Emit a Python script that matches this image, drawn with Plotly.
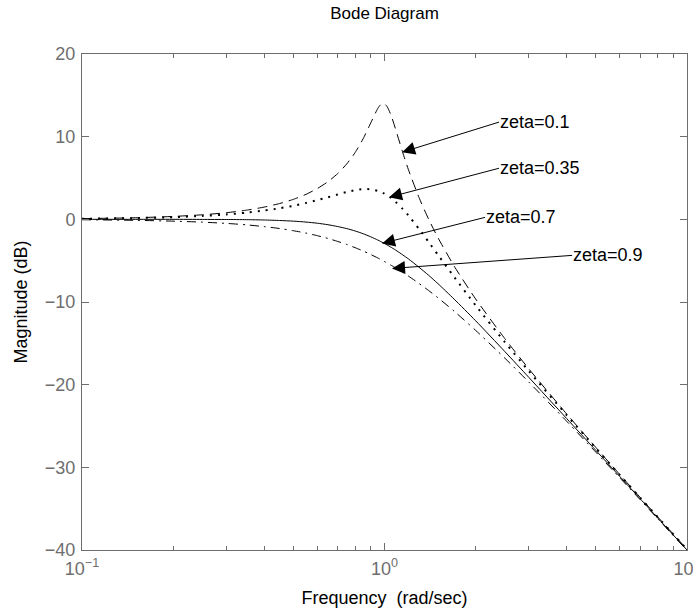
import plotly.graph_objects as go
import math

freq = [0.1, 0.15, 0.2, 0.25, 0.3, 0.35, 0.4, 0.45, 0.5, 0.55, 0.6, 0.65, 0.7, 0.75,
        0.8, 0.85, 0.9, 0.95, 0.97, 0.99, 1.0, 1.02, 1.05, 1.08, 1.1, 1.15, 1.2, 1.3,
        1.4, 1.5, 1.7, 2.0, 2.5, 3.0, 4.0, 5.0, 6.0, 7.0, 8.0, 10.0]

mag_z010 = [0.09, 0.19, 0.35, 0.55, 0.80, 1.11, 1.48, 1.91, 2.42, 3.02, 3.73, 4.55, 5.53, 6.70,
            8.09, 9.75, 11.64, 13.41, 13.86, 14.02, 13.98, 13.64, 12.63, 11.29, 10.34, 8.04, 6.00, 2.65,
            0.00, -2.18, -5.67, -9.62, -14.44, -18.09, -23.54, -27.61, -30.89, -33.63, -35.99, -39.91]
mag_z035 = [0.07, 0.15, 0.26, 0.41, 0.59, 0.81, 1.06, 1.34, 1.64, 1.97, 2.32, 2.67, 3.01, 3.31,
            3.53, 3.66, 3.64, 3.45, 3.33, 3.18, 3.10, 2.91, 2.59, 2.22, 1.96, 1.24, 0.46, -1.15,
            -2.75, -4.26, -6.98, -10.40, -14.86, -18.35, -23.67, -27.70, -30.94, -33.67, -36.02, -39.93]
mag_z070 = [0.00, 0.00, 0.00, -0.01, -0.02, -0.04, -0.08, -0.14, -0.22, -0.33, -0.47, -0.65, -0.87, -1.12,
            -1.41, -1.74, -2.11, -2.50, -2.67, -2.84, -2.92, -3.10, -3.37, -3.64, -3.83, -4.31, -4.79, -5.79,
            -6.78, -7.76, -9.66, -12.26, -16.00, -19.12, -24.09, -27.96, -31.12, -33.80, -36.12, -40.00]
mag_z090 = [-0.05, -0.12, -0.22, -0.34, -0.49, -0.67, -0.88, -1.11, -1.38, -1.66, -1.98, -2.31, -2.67, -3.04,
            -3.43, -3.83, -4.25, -4.67, -4.85, -5.02, -5.11, -5.28, -5.54, -5.81, -5.98, -6.42, -6.87, -7.75,
            -8.62, -9.47, -11.12, -13.42, -16.80, -19.69, -24.42, -28.18, -31.28, -33.91, -36.21, -40.05]

series_names = ["zeta=0.1", "zeta=0.35", "zeta=0.7", "zeta=0.9"]
series_vals = [mag_z010, mag_z035, mag_z070, mag_z090]
dashes = ["10px,6px", "2px,6px", "solid", "9px,5px,2px,5px"]
widths = [1, 2, 1, 1]

y_ticks = [20, 10, 0, -10, -20, -30, -40]
x_tick_vals = [0.1, 1, 10]
x_tick_text = ["10<sup>−1</sup>", "10<sup>0</sup>", "10<sup>1</sup>"]
x_minor_vals = [0.2, 0.3, 0.4, 0.5, 0.6, 0.7, 0.8, 0.9, 2, 3, 4, 5, 6, 7, 8, 9]

FONT = "Liberation Sans, Arial, sans-serif"

fig = go.Figure()
for name, vals, d, w in zip(series_names, series_vals, dashes, widths):
    fig.add_trace(go.Scatter(x=freq, y=vals, mode="lines", name=name, cliponaxis=False,
                             line=dict(color="black", dash=d, width=w, shape="spline", smoothing=0.6)))

# annotation arrows: (text, head_freq, head_mag, tail_freq, tail_mag)
arrows = [
    ("zeta=0.1", 1.143, 8.12, 2.39, 11.76),
    ("zeta=0.35", 1.035, 2.67, 2.39, 6.18),
    ("zeta=0.7", 0.981, -2.91, 2.15, 0.24),
    ("zeta=0.9", 1.059, -5.94, 4.17, -4.36),
]
for txt, hx, hy, tx, ty in arrows:
    fig.add_annotation(x=math.log10(hx), y=hy, ax=math.log10(tx), ay=ty,
                       axref="x", ayref="y", xref="x", yref="y",
                       text=txt, showarrow=True, arrowhead=2, arrowsize=2.6, arrowwidth=1,
                       arrowcolor="black", xanchor="left", yanchor="middle",
                       borderpad=0, font=dict(family=FONT, size=18, color="black"),
                       standoff=0, startstandoff=0)

axis_col = "#6e6e6e"
fig.update_layout(
    width=693, height=612,
    margin=dict(l=82, r=6, t=54, b=62),
    paper_bgcolor="white", plot_bgcolor="white",
    showlegend=False,
    font=dict(family=FONT, size=18, color="black"),
    title=dict(text="Bode Diagram", x=(82 + 687) / 2 / 693, xanchor="center", y=0.979, yanchor="middle",
               font=dict(family=FONT, size=17, color="black")),
)
fig.update_xaxes(type="log", range=[-1, 1], tickvals=x_tick_vals, ticktext=x_tick_text,
                 ticks="inside", ticklen=7, tickcolor=axis_col, showline=True, linecolor=axis_col,
                 linewidth=1, mirror="ticks", showgrid=False, zeroline=False, automargin=False,
                 ticklabelstandoff=2, ticklabeloverflow="allow",
                 tickfont=dict(family=FONT, size=18, color=axis_col),
                 minor=dict(tickvals=x_minor_vals, ticks="inside", ticklen=4, tickcolor=axis_col, showgrid=False),
                 title=dict(text="Frequency  (rad/sec)", font=dict(family=FONT, size=18, color="black"), standoff=13))
fig.update_yaxes(range=[-40, 20], tickvals=y_ticks,
                 ticks="inside", ticklen=7, tickcolor=axis_col, showline=True, linecolor=axis_col,
                 linewidth=1, mirror="ticks", showgrid=False, zeroline=False, automargin=False,
                 ticklabelstandoff=2, ticklabeloverflow="allow",
                 tickfont=dict(family=FONT, size=18, color=axis_col),
                 title=dict(text="Magnitude (dB)", font=dict(family=FONT, size=18, color="black"), standoff=12))

fig.write_html("out.html", config={"displayModeBar": False},
               post_script=("document.body.style.margin='0';"
                            "document.body.style.overflow='hidden';"
                            "document.documentElement.style.overflow='hidden';"))
